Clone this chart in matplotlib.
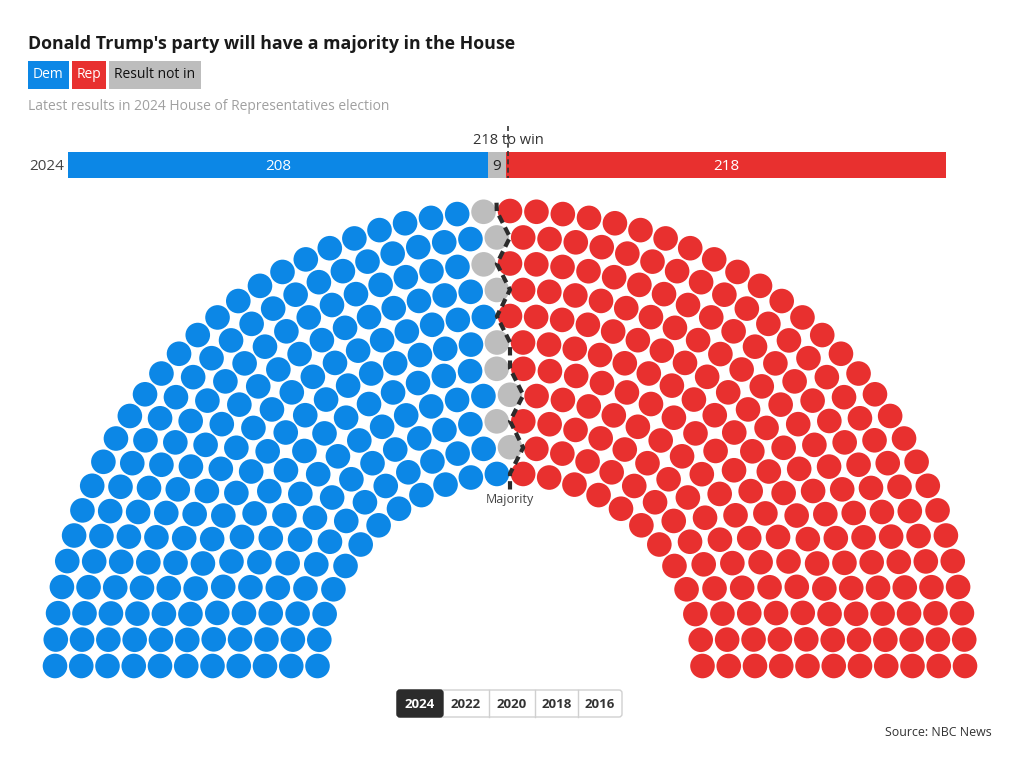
import numpy as np
import matplotlib.pyplot as plt
from matplotlib.patches import Circle, Rectangle, FancyBboxPatch

plt.rcParams['font.family'] = ['Open Sans', 'DejaVu Sans']

# data
parties = ['Dem', 'Result not in', 'Rep']
seats = [208, 9, 218]
colors = ['#0C87E6', '#BDBDBD', '#E8302F']
label_colors = ['white', '#222222', 'white']
legend_names = ['Dem', 'Rep', 'Result not in']
years = ['2024', '2022', '2020', '2018', '2016']
to_win = 218
# seats in each ring, inner to outer (counted from the picture)
row_seats = [24, 27, 30, 33, 36, 40, 43, 46, 49, 52, 55]

W, H = 1020, 768
fig = plt.figure(figsize=(W / 100, H / 100), dpi=100)
ax = fig.add_axes([0, 0, 1, 1])
ax.set_xlim(0, W)
ax.set_ylim(H, 0)
ax.axis('off')

# title, legend, subtitle
ax.text(28, 44, "Donald Trump's party will have a majority in the House",
        fontsize=12.8, fontweight='bold', color='#1a1a1a', va='center')
leg_col = {'Dem': colors[0], 'Rep': colors[2], 'Result not in': colors[1]}
leg_txt = {'Dem': 'white', 'Rep': 'white', 'Result not in': '#111111'}
lx = 28
for name in legend_names:
    t = ax.text(lx + 5, 75, name, fontsize=10, color=leg_txt[name], va='center')
    fig.canvas.draw()
    bb = t.get_window_extent()
    w = bb.width + 10
    ax.add_patch(Rectangle((lx, 61), w, 28, color=leg_col[name], lw=0, zorder=0))
    lx += w + 3
ax.text(28, 107, 'Latest results in 2024 House of Representatives election',
        fontsize=10, color='#a0a0a0', va='center')

# bar
total = sum(seats)
bx0, bx1 = 68, 946
scale = (bx1 - bx0) / total
left = bx0
for s, c, tc in zip(seats, colors, label_colors):
    ax.add_patch(Rectangle((left, 152), s * scale, 26, color=c, lw=0))
    ax.text(left + s * scale / 2, 166, str(s), color=tc, fontsize=11,
            ha='center', va='center')
    left += s * scale
ax.text(64, 166, years[0], fontsize=11, color='#444444', ha='right', va='center')
xw = bx0 + to_win * scale
ax.plot([xw, xw], [126, 178], color='#333333', lw=1.2, ls=(0, (3, 2)))
ax.text(xw, 141, f'{to_win} to win', fontsize=10.5, color='#333333',
        ha='center', va='center')

# hemicycle
cx, cy = 510, 666
radii = np.linspace(192.5, 455, len(row_seats))

pos = []
for i, (r, n) in enumerate(zip(radii, row_seats)):
    for j in range(n):
        pos.append((np.pi * (1 - j / (n - 1)), r, i, n))
pos.sort(key=lambda p: (-round(p[0], 9), p[1]))

bounds = np.cumsum(seats)
for k, (a, r, i, n) in enumerate(pos):
    p = np.searchsorted(bounds, k, side='right')
    ax.add_patch(Circle((cx + r * np.cos(a), cy - r * np.sin(a)), 12.3,
                        color=colors[p], lw=0))

# majority line
maj = to_win - 1
pts = []
for i, (r, n) in enumerate(zip(radii, row_seats)):
    angs = [p[0] for k, p in enumerate(pos) if p[2] == i and k >= maj]
    b = max(angs) + np.pi / (n - 1) / 2
    pts.append((b, r))
pts = [(pts[0][0], radii[0] - 16)] + pts + [(pts[-1][0], radii[-1] + 11)]
mx = [cx + r * np.cos(a) for a, r in pts]
my = [cy - r * np.sin(a) for a, r in pts]
ax.plot(mx, my, color='#2b2b2b', lw=3, ls=(0, (2, 1.2)), solid_capstyle='butt',
        zorder=5)
ax.text(510, 499, 'Majority', fontsize=9, color='#444444', ha='center', va='center')

# year tabs
tx = [397, 443, 489, 535, 578, 622]
ax.add_patch(FancyBboxPatch((tx[0], 690), tx[-1] - tx[0], 27,
                            boxstyle='round,pad=0,rounding_size=3',
                            fc='white', ec='#d0d0d0', lw=1))
for k, y in enumerate(years):
    if k == 0:
        ax.add_patch(FancyBboxPatch((tx[0], 690), tx[1] - tx[0], 27,
                                    boxstyle='round,pad=0,rounding_size=3',
                                    fc='#2b2b2b', ec='#2b2b2b', lw=1))
    elif k > 1:
        ax.plot([tx[k], tx[k]], [690, 717], color='#d0d0d0', lw=1)
    ax.text((tx[k] + tx[k + 1]) / 2, 704, y, fontsize=9.5, fontweight='bold',
            color='white' if k == 0 else '#333333', ha='center', va='center')

ax.text(992, 733, 'Source: NBC News', fontsize=8.9, color='#333333',
        ha='right', va='center')

fig.savefig('out.png', dpi=100)
